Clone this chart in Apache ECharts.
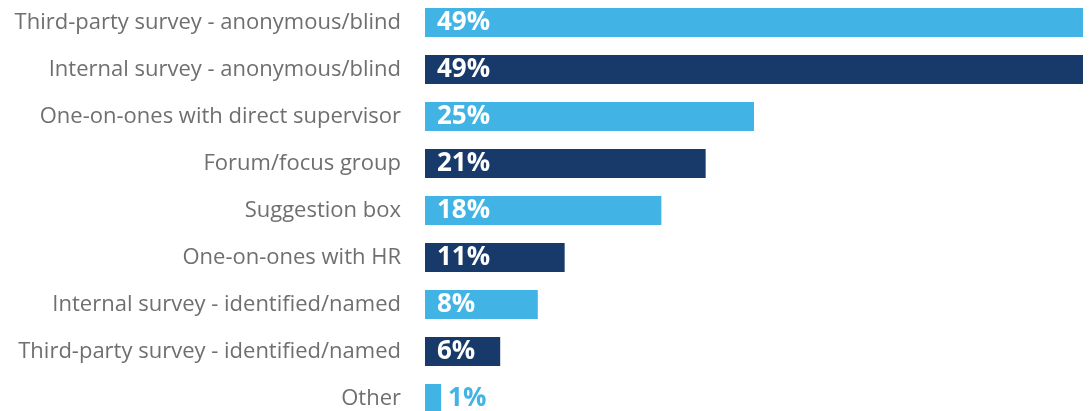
<!DOCTYPE html>
<html>
<head>
<meta charset="utf-8">
<script src="https://cdn.jsdelivr.net/npm/echarts@6/dist/echarts.min.js"></script>
<style>html,body{margin:0;padding:0;background:#fff;overflow:hidden}#c{width:1089px;height:423px;margin-top:-1px}</style>
</head>
<body>
<div id="c"></div>
<script>
const categories = [
  'Third-party survey - anonymous/blind',
  'Internal survey - anonymous/blind',
  'One-on-ones with direct supervisor',
  'Forum/focus group',
  'Suggestion box',
  'One-on-ones with HR',
  'Internal survey - identified/named',
  'Third-party survey - identified/named',
  'Other'
];
const values = [49, 49, 24.5, 20.9, 17.6, 10.4, 8.4, 5.6, 1.2];
const labels = ['49%', '49%', '25%', '21%', '18%', '11%', '8%', '6%', '1%'];
const LIGHT = '#41B4E5', DARK = '#173A6B';

const data = values.map((v, i) => {
  const inside = v >= 3;
  return {
    value: v,
    itemStyle: { color: i % 2 === 0 ? LIGHT : DARK },
    label: {
      position: inside ? 'insideLeft' : 'right',
      distance: inside ? 12 : 7,
      color: inside ? '#ffffff' : LIGHT
    }
  };
});

const chart = echarts.init(document.getElementById('c'));
chart.setOption({
  animation: false,
  grid: { left: 425, right: 6, top: 0, bottom: 0, containLabel: false },
  xAxis: { type: 'value', min: 0, max: 49, show: false },
  yAxis: {
    type: 'category', data: categories, inverse: true,
    axisLine: { show: false }, axisTick: { show: false },
    axisLabel: { color: '#6f6f6f', fontSize: 22, fontFamily: 'Open Sans', margin: 24 }
  },
  series: [{
    type: 'bar', data: data, barWidth: 29,
    label: {
      show: true, fontSize: 26, fontWeight: 'bold', fontFamily: 'Open Sans',
      formatter: p => labels[p.dataIndex]
    }
  }]
});
</script>
</body>
</html>
